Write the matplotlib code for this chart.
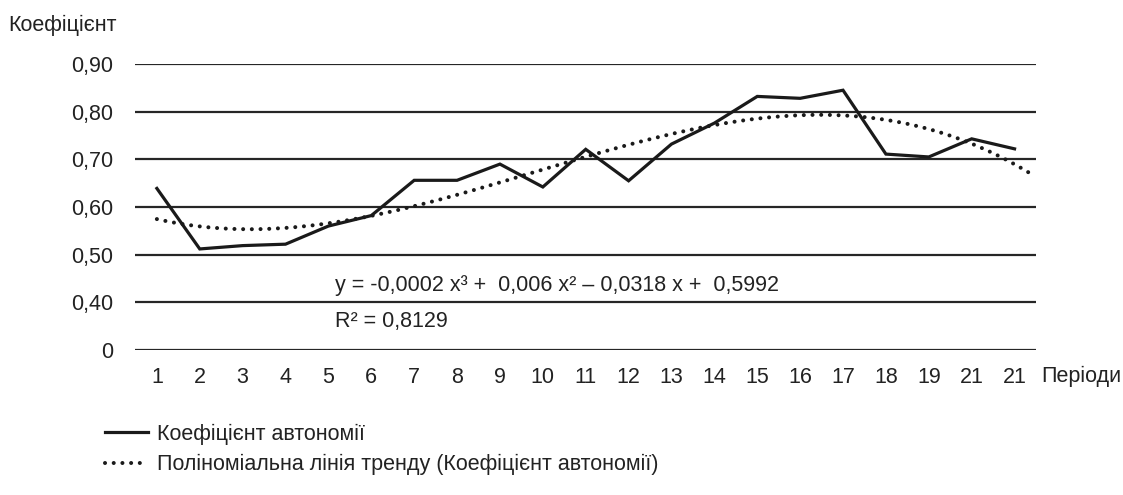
import matplotlib.pyplot as plt
import numpy as np

plt.rcParams["font.family"] = ["Liberation Sans", "DejaVu Sans"]

periods = list(range(1, 22))
period_labels = ["1", "2", "3", "4", "5", "6", "7", "8", "9", "10", "11", "12",
                 "13", "14", "15", "16", "17", "18", "19", "21", "21"]
autonomy = [0.639, 0.512, 0.519, 0.522, 0.560, 0.582, 0.656, 0.656, 0.690, 0.642,
            0.721, 0.655, 0.732, 0.776, 0.832, 0.828, 0.845, 0.711, 0.705, 0.743,
            0.722]
y_ticks = [0.3, 0.4, 0.5, 0.6, 0.7, 0.8, 0.9]
y_tick_labels = ["0", "0,40", "0,50", "0,60", "0,70", "0,80", "0,90"]

# cubic trend line, as the spreadsheet draws it (extended a bit forward)
coef = np.polyfit(periods, autonomy, 3)
xs = np.linspace(periods[0], periods[-1] + 0.35, 200)
trend = np.polyval(coef, xs)

FS = 15.5
TXT = "#222222"

fig = plt.figure(figsize=(11.23, 4.95), dpi=100)
ax = fig.add_axes([135 / 1123, 1 - 350 / 495, 901 / 1123, (350 - 64) / 495])

for v in y_ticks:
    ax.axhline(v, color="#262626", lw=1.6, zorder=1)

ax.plot(periods, autonomy, color="#1a1a1a", lw=2.3, solid_joinstyle="miter",
        label="Коефіцієнт автономії", zorder=3)
ax.plot(xs, trend, color="#1a1a1a", lw=2.9, linestyle=(0, (0.01, 2.15)),
        dash_capstyle="round",
        label="Поліноміальна лінія тренду (Коефіцієнт автономії)", zorder=2)

ax.set_xlim(0.49, 21.5)
ax.set_ylim(0.3, 0.9)
ax.set_yticks(y_ticks)
ax.set_yticklabels(y_tick_labels)
ax.set_xticks(periods)
ax.set_xticklabels(period_labels)
ax.tick_params(length=0, labelsize=FS, colors=TXT)
ax.tick_params(axis="y", pad=16)
ax.tick_params(axis="x", pad=12)
for s in ax.spines.values():
    s.set_visible(False)

ax.text(335 / 1123, 1 - 285 / 495, "y = -0,0002 x³ +  0,006 x² – 0,0318 x +  0,5992",
        transform=fig.transFigure, fontsize=FS, va="center", color=TXT)
ax.text(335 / 1123, 1 - 322 / 495, "R² = 0,8129",
        transform=fig.transFigure, fontsize=FS, va="center", color=TXT)

fig.text(8 / 1123, 1 - 25 / 495, "Коефіцієнт", fontsize=FS, va="center", color=TXT)
fig.text(1041 / 1123, 1 - 376 / 495, "Періоди", fontsize=FS, va="center", color=TXT)

fig.legend(loc="upper left", bbox_to_anchor=(94 / 1123, 1 - 413 / 495), frameon=False,
           fontsize=FS, handlelength=2.0, handletextpad=0.42, labelspacing=0.42,
           borderpad=0, labelcolor=TXT)

fig.savefig("out.png", dpi=100)
